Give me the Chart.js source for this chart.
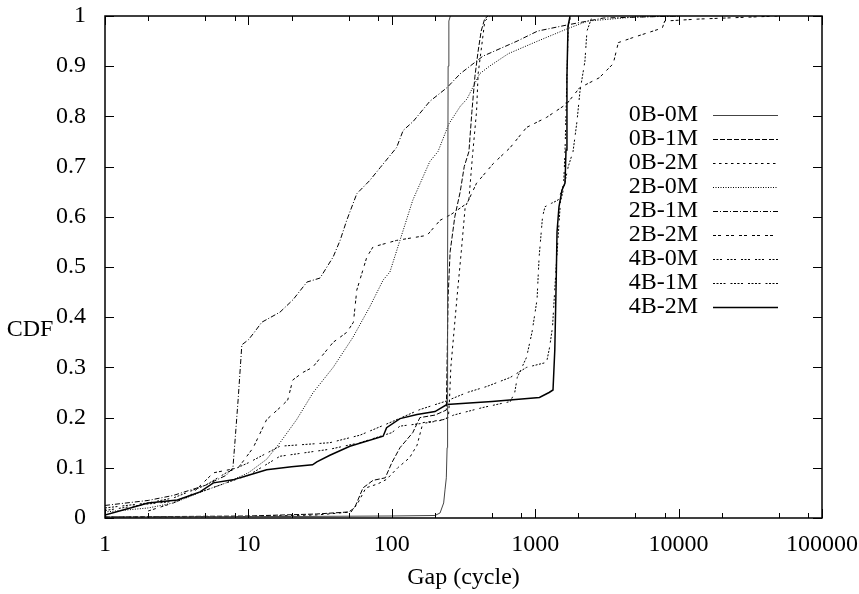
<!DOCTYPE html>
<html>
<head>
<meta charset="utf-8">
<script src="https://cdn.jsdelivr.net/npm/chart.js@4"></script>
<style>
  html, body { margin: 0; padding: 0; background: #fff; }
</style>
</head>
<body>
<canvas id="cdfChart" width="859" height="594"></canvas>
<script>
// series names, in legend order
const seriesNames = ["0B-0M", "0B-1M", "0B-2M", "2B-0M", "2B-1M", "2B-2M", "4B-0M", "4B-1M", "4B-2M"];

// [gap (cycle), CDF]
const s0B0M = [[1,0.002],[20,0.003],[100,0.004],[200,0.005],[217,0.01],[230,0.03],[235,0.056],[240,0.08],[243,0.14],[245,0.5],[247,0.9],[250,0.99],[256,1]];
const s0B1M = [[1,0.002],[10,0.004],[30,0.008],[50,0.012],[55,0.02],[63,0.06],[74,0.075],[90,0.08],[100,0.11],[114,0.14],[140,0.17],[157,0.2],[200,0.205],[240,0.215],[247,0.44],[255,0.53],[275,0.6],[300,0.65],[320,0.7],[345,0.73],[362,0.81],[380,0.88],[400,0.93],[420,0.97],[445,0.995],[470,1]];
const s0B2M = [[1,0.002],[10,0.003],[30,0.006],[52,0.012],[58,0.03],[66,0.06],[80,0.068],[92,0.077],[110,0.1],[133,0.12],[150,0.145],[165,0.19],[220,0.195],[248,0.2],[252,0.23],[258,0.3],[285,0.44],[305,0.53],[325,0.62],[345,0.635],[365,0.72],[390,0.81],[400,0.885],[425,0.944],[445,0.99],[485,1]];
const s2B0M = [[1,0.012],[2,0.02],[3,0.03],[5,0.055],[7,0.07],[10,0.09],[13.4,0.117],[16.6,0.15],[21.7,0.196],[28.3,0.25],[39,0.3],[53.6,0.36],[70,0.42],[87,0.474],[97,0.49],[114,0.553],[140,0.633],[184,0.71],[210,0.73],[250,0.785],[300,0.82],[335,0.835],[410,0.885],[480,0.9],[650,0.925],[1040,0.95],[1690,0.975],[2330,0.99],[5000,0.998],[10000,1]];
const s2B1M = [[1,0.025],[2,0.035],[3,0.045],[5,0.065],[7,0.085],[7.8,0.1],[8,0.14],[8.5,0.24],[9,0.345],[10,0.355],[11,0.37],[12.4,0.39],[16.6,0.41],[20.5,0.435],[25.6,0.47],[31.6,0.478],[39,0.52],[43.6,0.553],[48.5,0.593],[57,0.646],[70,0.672],[83,0.698],[108,0.738],[120,0.772],[141,0.79],[184,0.83],[242,0.857],[300,0.885],[432,0.92],[748,0.95],[1040,0.97],[1660,0.982],[3000,0.996],[10000,1]];
const s2B2M = [[2,0.014],[3,0.03],[3.9,0.044],[5.7,0.09],[7,0.095],[8.5,0.1],[10.8,0.14],[13.4,0.196],[16.6,0.22],[18.8,0.235],[20.4,0.275],[24,0.29],[28,0.3],[39,0.35],[48.6,0.37],[54,0.39],[57,0.454],[67,0.52],[74,0.54],[108,0.553],[176,0.563],[217,0.593],[260,0.605],[335,0.627],[390,0.667],[510,0.706],[670,0.738],[870,0.778],[1200,0.798],[1660,0.825],[2040,0.857],[2800,0.877],[3500,0.905],[3800,0.947],[4800,0.957],[7700,0.976],[8000,0.99],[14000,0.994],[50000,1]];
const s4B0M = [[1,0.015],[2,0.028],[3,0.033],[5,0.055],[7,0.07],[10,0.085],[16.6,0.123],[37,0.137],[60,0.15],[100,0.17],[114,0.183],[180,0.19],[225,0.195],[270,0.205],[430,0.22],[670,0.232],[720,0.25],[750,0.28],[870,0.32],[950,0.37],[1030,0.435],[1065,0.52],[1125,0.6],[1170,0.62],[1300,0.627],[1440,0.633],[1537,0.653],[1580,0.667],[1614,0.73],[1665,0.88],[1700,0.98],[1770,1]];
const s4B1M = [[1,0.02],[2,0.03],[3,0.04],[5,0.065],[7,0.09],[10,0.11],[16.6,0.143],[37,0.15],[60,0.165],[97,0.19],[157,0.216],[240,0.233],[335,0.25],[460,0.262],[670,0.28],[870,0.3],[1200,0.31],[1260,0.34],[1320,0.38],[1400,0.5],[1500,0.63],[1560,0.65],[1700,0.7],[1836,0.73],[1956,0.79],[2052,0.85],[2222,0.91],[2296,0.97],[2500,1]];
const s4B2M = [[1,0.006],[2,0.03],[3.2,0.036],[4.6,0.052],[5.7,0.07],[7.8,0.076],[10,0.085],[13.4,0.096],[20,0.102],[28,0.106],[30,0.112],[37,0.125],[51,0.143],[87,0.163],[92,0.18],[114,0.198],[150,0.206],[200,0.212],[242,0.226],[500,0.232],[1070,0.24],[1250,0.25],[1331,0.255],[1370,0.335],[1400,0.468],[1420,0.57],[1465,0.62],[1537,0.653],[1614,0.667],[1640,0.733],[1665,0.88],[1694,0.98],[1750,1]];

const seriesData = [s0B0M, s0B1M, s0B2M, s2B0M, s2B1M, s2B2M, s4B0M, s4B1M, s4B2M];

// axis ticks
const xTicks = [1, 10, 100, 1000, 10000, 100000];
const xMinor = [2, 5, 8];
const yTicks = [0, 0.1, 0.2, 0.3, 0.4, 0.5, 0.6, 0.7, 0.8, 0.9, 1];

// gnuplot-ish monochrome line types
const dashes = [[], [5, 2], [2.5, 3.5], [1, 1.5], [5, 2, 1, 2], [3, 2, 3, 5], [2, 1.5, 2, 1.5, 2, 5], [2, 1.5, 2, 1.5, 2, 1.5, 2, 5], []];
const widths = [1, 1, 1, 1, 1, 1, 1, 1, 1.5];
const colors = ["#444", "#000", "#000", "#000", "#000", "#000", "#000", "#000", "#000"];

const serif = "'Liberation Serif', 'DejaVu Serif', serif";
const font = { family: serif, size: 24 };

const frameTicksLegend = {
  id: 'frameTicksLegend',
  afterDraw(chart) {
    const { ctx, chartArea: a, scales: { x, y } } = chart;
    ctx.save();
    ctx.strokeStyle = '#000';
    ctx.lineWidth = 1;
    ctx.setLineDash([]);
    ctx.beginPath();
    yTicks.forEach(v => {
      const py = Math.round(y.getPixelForValue(v)) + 0.5;
      ctx.moveTo(a.left, py); ctx.lineTo(a.left + 9, py);
      ctx.moveTo(a.right, py); ctx.lineTo(a.right - 9, py);
    });
    xTicks.forEach((v, i) => {
      let px = Math.round(x.getPixelForValue(v)) + 0.5;
      ctx.moveTo(px, a.bottom); ctx.lineTo(px, a.bottom - 9);
      ctx.moveTo(px, a.top); ctx.lineTo(px, a.top + 9);
      if (i < xTicks.length - 1) {
        xMinor.forEach(m => {
          px = Math.round(x.getPixelForValue(m * v)) + 0.5;
          ctx.moveTo(px, a.bottom); ctx.lineTo(px, a.bottom - 5);
          ctx.moveTo(px, a.top); ctx.lineTo(px, a.top + 5);
        });
      }
    });
    ctx.stroke();

    ctx.lineWidth = 1.5;
    ctx.strokeRect(a.left, a.top, a.right - a.left, a.bottom - a.top);

    // y label, horizontal as gnuplot draws it
    ctx.fillStyle = '#000';
    ctx.font = "24px " + serif;
    ctx.textAlign = 'center';
    ctx.textBaseline = 'middle';
    ctx.fillText('CDF', 30, 330);

    // key, text then sample
    chart.data.datasets.forEach((ds, i) => {
      const ly = 115 + i * 24;
      ctx.textAlign = 'right';
      ctx.fillText(ds.label, 698, ly);
      ctx.beginPath();
      ctx.strokeStyle = ds.borderColor;
      ctx.lineWidth = ds.borderWidth;
      ctx.setLineDash(ds.borderDash);
      ctx.moveTo(713, ly + 0.5);
      ctx.lineTo(778, ly + 0.5);
      ctx.stroke();
    });
    ctx.restore();
  }
};

new Chart(document.getElementById('cdfChart'), {
  type: 'line',
  data: {
    datasets: seriesNames.map((name, i) => ({
      label: name,
      data: seriesData[i].map(([gap, cdf]) => ({ x: gap, y: cdf })),
      borderColor: colors[i],
      borderWidth: widths[i],
      borderDash: dashes[i],
      pointRadius: 0,
      tension: 0,
      fill: false
    }))
  },
  options: {
    responsive: false,
    animation: false,
    devicePixelRatio: 1,
    layout: { padding: { left: 0, right: 37, top: 16, bottom: 0 } },
    plugins: { legend: { display: false }, tooltip: { enabled: false } },
    scales: {
      x: {
        type: 'logarithmic',
        min: 1,
        max: 100000,
        afterBuildTicks: s => { s.ticks = xTicks.map(v => ({ value: v })); },
        // fixed height, and no extra label overhang so the plot box stays put
        afterFit: s => { s.height = 76; s.paddingLeft = 0; s.paddingRight = 0; },
        ticks: { callback: v => String(v), font, color: '#000', padding: 12, maxRotation: 0, autoSkip: false },
        grid: { display: false, drawTicks: false },
        border: { display: false },
        title: { display: true, text: 'Gap (cycle)', font, color: '#000', padding: { top: 0, bottom: 2 } }
      },
      y: {
        type: 'linear',
        min: 0,
        max: 1,
        afterBuildTicks: s => { s.ticks = yTicks.map(v => ({ value: v })); },
        afterFit: s => { s.width = 105; s.paddingTop = 0; s.paddingBottom = 0; },
        ticks: { callback: v => String(+v.toFixed(1)), font, color: '#000', padding: 19 },
        grid: { display: false, drawTicks: false },
        border: { display: false }
      }
    }
  },
  plugins: [frameTicksLegend]
});
</script>
</body>
</html>
